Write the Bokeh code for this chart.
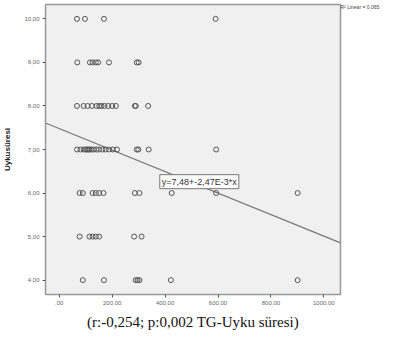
from bokeh.plotting import figure
from bokeh.models import Range1d, FixedTicker, Label, Title, LinearAxis
from bokeh.embed import file_html
from bokeh.resources import INLINE

# Data (TG vs Uyku süresi)
x_vals = [67, 97, 169, 591,
          68, 116, 126, 138, 147, 188, 293, 300,
          67, 92, 107, 123, 141, 151, 160, 171, 185, 200, 214, 286, 289, 336,
          67, 80, 92, 100, 105, 110, 115, 122, 130, 140, 150, 163, 175, 188, 203, 218, 293, 299, 338, 593,
          77, 89, 126, 138, 151, 167, 286, 303, 425, 593, 901,
          77, 114, 126, 138, 151, 283, 311,
          89, 169, 289, 296, 303, 422, 901]
y_vals = ([10] * 4 + [9] * 8 + [8] * 14 + [7] * 20 + [6] * 11 + [5] * 7 + [4] * 7)

intercept = 7.48
slope = -0.00247
r2_text = "R\u00b2 Linear = 0,065"
eq_text = "y=7,48+-2,47E-3*x"
caption = "(r:-0,254; p:0,002 TG-Uyku süresi)"

x_ticks = [0, 200, 400, 600, 800, 1000]
x_tick_labels = [",00", "200,00", "400,00", "600,00", "800,00", "1000,00"]
y_ticks = [4, 5, 6, 7, 8, 9, 10]
y_tick_labels = ["4,00", "5,00", "6,00", "7,00", "8,00", "9,00", "10,00"]

x0, x1 = -52, 1063
y0, y1 = 3.67, 10.33
r2_pos = 10.28

p = figure(width=388, height=333, output_backend="svg", toolbar_location=None,
           x_range=Range1d(x0, x1), y_range=Range1d(y0, y1),
           min_border_left=44, min_border_right=48, min_border_top=4, min_border_bottom=10)

p.background_fill_color = "#f0f0f0"
p.border_fill_color = "white"
p.outline_line_color = "#999999"
p.outline_line_width = 1.5
p.xgrid.visible = False
p.ygrid.visible = False

for ax in (p.xaxis[0], p.yaxis[0]):
    ax.axis_line_color = "#999999"
    ax.major_tick_line_color = "#555555"
    ax.major_tick_in = 0
    ax.major_tick_out = 3
    ax.minor_tick_line_color = None
    ax.major_label_text_font = "Liberation Sans"
    ax.major_label_text_font_size = "6px"
    ax.major_label_text_color = "#666666"
    ax.major_label_standoff = 3

p.xaxis.ticker = FixedTicker(ticks=x_ticks)
p.xaxis.major_label_overrides = {t: l for t, l in zip(x_ticks, x_tick_labels)}
p.yaxis.ticker = FixedTicker(ticks=y_ticks)
p.yaxis.major_label_overrides = {t: l for t, l in zip(y_ticks, y_tick_labels)}

p.yaxis.axis_label = "Uykusüresi"
p.yaxis.axis_label_text_font = "Liberation Sans"
p.yaxis.axis_label_text_font_style = "bold"
p.yaxis.axis_label_text_font_size = "8px"
p.yaxis.axis_label_text_color = "#222222"
p.yaxis.axis_label_standoff = 9

# right-side "axis" used only to carry the R² legend text
r_axis = LinearAxis(ticker=FixedTicker(ticks=[r2_pos]),
                    major_label_overrides={r2_pos: r2_text},
                    axis_label=None, axis_label_standoff=0,
                    axis_label_text_font_size="1px",
                    axis_line_color=None, major_tick_line_color=None,
                    minor_tick_line_color=None,
                    major_tick_in=0, major_tick_out=0,
                    minor_tick_in=0, minor_tick_out=0,
                    major_label_text_font="Liberation Sans",
                    major_label_text_font_size="5px",
                    major_label_text_color="#444444",
                    major_label_standoff=0)
p.add_layout(r_axis, "right")

# regression line
p.line([x0, x1], [intercept + slope * x0, intercept + slope * x1],
       line_color="#777777", line_width=1.2)

p.scatter(x_vals, y_vals, marker="circle", size=5, fill_color=None,
          line_color="#555555", line_width=1)

p.add_layout(Label(x=380, y=6.1, text=eq_text, text_font="Liberation Sans",
                   text_font_size="9px", text_color="#333333",
                   background_fill_color="white", border_line_color="#777777",
                   padding=2))

p.add_layout(Title(text=caption, align="center", text_font="Liberation Serif",
                   text_font_size="15px", text_font_style="normal",
                   text_color="#111111", standoff=8), "below")

open("out.html", "w").write(file_html(p, INLINE))
